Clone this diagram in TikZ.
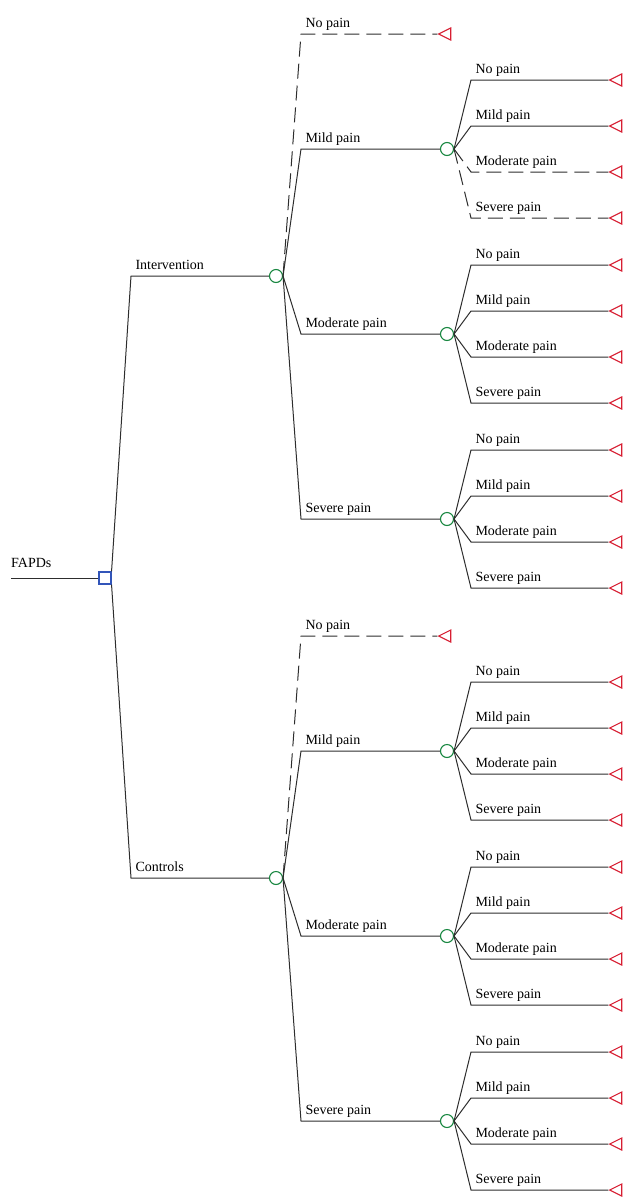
\documentclass[tikz,border=0pt]{standalone}
\usepackage{fontspec}
\setmainfont{Liberation Serif}
\usepackage{tikz}
\usetikzlibrary{shapes.geometric}
\usepackage{xcolor}
\definecolor{chancegreen}{RGB}{25,135,65}
\definecolor{termred}{RGB}{215,30,50}
\definecolor{decblue}{RGB}{50,85,185}
\definecolor{linegray}{RGB}{45,45,45}
\tikzset{
branch/.style={draw=linegray,
  line width=1pt},
dbranch/.style={branch,
  dash pattern=on 15pt off 7pt},
decbox/.style={draw=decblue,
  line width=1.1pt,
    minimum size=12pt,
    inner sep=0pt},
chance/.style={draw=chancegreen, circle,
  line width=1.1pt,
    minimum size=13pt,
    inner sep=0pt},
term/.style={draw=termred, isosceles triangle,
  shape border rotate=180,
    isosceles triangle stretches,
    line width=1.1pt,
    minimum width=12pt,
    minimum height=12pt,
    inner sep=0pt},
lbl/.style={anchor=base west,
  inner sep=0pt,
    xshift=4pt, yshift=7pt},
}
\begin{document}
\begin{tikzpicture}[x=1pt, y=-1pt, font=\fontsize{14}{16}\selectfont]
  \useasboundingbox (0,0) rectangle (627,1197);

  % Columns of the corners
  \coordinate (col0) at (131,0);
  \coordinate (col1) at (301,0);
  \coordinate (col2) at (471,0);

  % Nodes
  \coordinate (root) at (11,578);
  \node [decbox] (dec) at (105,578) {};
  \node [chance] (intv) at (276,276) {};
  \node [chance] (ctrl) at (276,878) {};
  \node [chance] (im) at (447,149) {};
  \node [chance] (imo) at (447,334) {};
  \node [chance] (is) at (447,519) {};
  \node [chance] (cm) at (447,751) {};
  \node [chance] (cmo) at (447,936) {};
  \node [chance] (cs) at (447,1121) {};

  % Terminals
  \node [term] (ino) at (447,34) {};
  \node [term] (im1) at (618,80) {};
  \node [term] (im2) at (618,126) {};
  \node [term] (im3) at (618,172) {};
  \node [term] (im4) at (618,218) {};
  \node [term] (imo1) at (618,265) {};
  \node [term] (imo2) at (618,311) {};
  \node [term] (imo3) at (618,357) {};
  \node [term] (imo4) at (618,403) {};
  \node [term] (is1) at (618,450) {};
  \node [term] (is2) at (618,496) {};
  \node [term] (is3) at (618,542) {};
  \node [term] (is4) at (618,588) {};
  \node [term] (cno) at (447,636) {};
  \node [term] (cm1) at (618,682) {};
  \node [term] (cm2) at (618,728) {};
  \node [term] (cm3) at (618,774) {};
  \node [term] (cm4) at (618,820) {};
  \node [term] (cmo1) at (618,867) {};
  \node [term] (cmo2) at (618,913) {};
  \node [term] (cmo3) at (618,959) {};
  \node [term] (cmo4) at (618,1005) {};
  \node [term] (cs1) at (618,1052) {};
  \node [term] (cs2) at (618,1098) {};
  \node [term] (cs3) at (618,1144) {};
  \node [term] (cs4) at (618,1190) {};

  % Decision
  \draw [branch] (root) -- (dec);
  \node [anchor=base west, inner sep=0pt] (fapds) at (11,567) {FAPDs};
  \draw [branch] (dec.north east) -- (col0 |- intv) node [lbl] {Intervention} -- (intv);
  \draw [branch] (dec.south east) -- (col0 |- ctrl) node [lbl] {Controls} -- (ctrl);

  % Intervention
  \draw [dbranch] (intv.east) -- (col1 |- ino) node [lbl] {No pain} -- (ino);
  \draw [branch] (intv.east) -- (col1 |- im) node [lbl] {Mild pain} -- (im);
  \draw [branch] (intv.east) -- (col1 |- imo) node [lbl] {Moderate pain} -- (imo);
  \draw [branch] (intv.east) -- (col1 |- is) node [lbl] {Severe pain} -- (is);

  \draw [branch] (im.east) -- (col2 |- im1) node [lbl] {No pain} -- (im1);
  \draw [branch] (im.east) -- (col2 |- im2) node [lbl] {Mild pain} -- (im2);
  \draw [dbranch] (im.east) -- (col2 |- im3) node [lbl] {Moderate pain} -- (im3);
  \draw [dbranch] (im.east) -- (col2 |- im4) node [lbl] {Severe pain} -- (im4);

  \draw [branch] (imo.east) -- (col2 |- imo1) node [lbl] {No pain} -- (imo1);
  \draw [branch] (imo.east) -- (col2 |- imo2) node [lbl] {Mild pain} -- (imo2);
  \draw [branch] (imo.east) -- (col2 |- imo3) node [lbl] {Moderate pain} -- (imo3);
  \draw [branch] (imo.east) -- (col2 |- imo4) node [lbl] {Severe pain} -- (imo4);

  \draw [branch] (is.east) -- (col2 |- is1) node [lbl] {No pain} -- (is1);
  \draw [branch] (is.east) -- (col2 |- is2) node [lbl] {Mild pain} -- (is2);
  \draw [branch] (is.east) -- (col2 |- is3) node [lbl] {Moderate pain} -- (is3);
  \draw [branch] (is.east) -- (col2 |- is4) node [lbl] {Severe pain} -- (is4);

  % Controls
  \draw [dbranch] (ctrl.east) -- (col1 |- cno) node [lbl] {No pain} -- (cno);
  \draw [branch] (ctrl.east) -- (col1 |- cm) node [lbl] {Mild pain} -- (cm);
  \draw [branch] (ctrl.east) -- (col1 |- cmo) node [lbl] {Moderate pain} -- (cmo);
  \draw [branch] (ctrl.east) -- (col1 |- cs) node [lbl] {Severe pain} -- (cs);

  \draw [branch] (cm.east) -- (col2 |- cm1) node [lbl] {No pain} -- (cm1);
  \draw [branch] (cm.east) -- (col2 |- cm2) node [lbl] {Mild pain} -- (cm2);
  \draw [branch] (cm.east) -- (col2 |- cm3) node [lbl] {Moderate pain} -- (cm3);
  \draw [branch] (cm.east) -- (col2 |- cm4) node [lbl] {Severe pain} -- (cm4);

  \draw [branch] (cmo.east) -- (col2 |- cmo1) node [lbl] {No pain} -- (cmo1);
  \draw [branch] (cmo.east) -- (col2 |- cmo2) node [lbl] {Mild pain} -- (cmo2);
  \draw [branch] (cmo.east) -- (col2 |- cmo3) node [lbl] {Moderate pain} -- (cmo3);
  \draw [branch] (cmo.east) -- (col2 |- cmo4) node [lbl] {Severe pain} -- (cmo4);

  \draw [branch] (cs.east) -- (col2 |- cs1) node [lbl] {No pain} -- (cs1);
  \draw [branch] (cs.east) -- (col2 |- cs2) node [lbl] {Mild pain} -- (cs2);
  \draw [branch] (cs.east) -- (col2 |- cs3) node [lbl] {Moderate pain} -- (cs3);
  \draw [branch] (cs.east) -- (col2 |- cs4) node [lbl] {Severe pain} -- (cs4);
\end{tikzpicture}
\end{document}
